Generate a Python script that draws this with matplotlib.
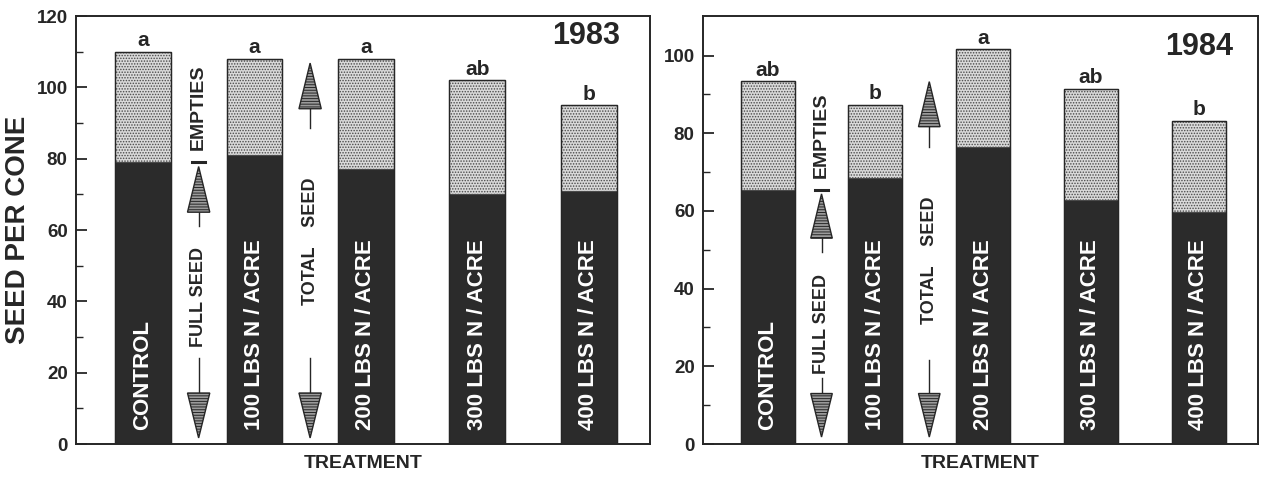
import matplotlib.pyplot as plt
from matplotlib.patches import Polygon

plt.rcParams['font.family'] = ['Liberation Sans', 'DejaVu Sans']
plt.rcParams['font.weight'] = 'bold'
plt.rcParams['hatch.linewidth'] = 0.7

treatments = ['CONTROL', '100 LBS N / ACRE', '200 LBS N / ACRE',
              '300 LBS N / ACRE', '400 LBS N / ACRE']

full_1983 = [79, 81, 77, 70, 71]
total_1983 = [110, 108, 108, 102, 95]
letters_1983 = ['a', 'a', 'a', 'ab', 'b']

full_1984 = [65.4, 68.5, 76.5, 62.8, 59.8]
total_1984 = [93.4, 87.4, 101.7, 91.5, 83.2]
letters_1984 = ['ab', 'b', 'a', 'ab', 'b']

ink = '#262626'
dark = '#2b2b2b'


def head(ax, x, tip, base, w):
    tri = Polygon([(x - w / 2, base), (x + w / 2, base), (x, tip)], closed=True,
                  facecolor='#9a9a9a', edgecolor=ink, hatch='------', lw=1.0, zorder=4)
    ax.add_patch(tri)


def double_arrow(ax, x, up_tip, up_base, up_stem, dn_stem, dn_base, dn_tip, w=0.2):
    head(ax, x, up_tip, up_base, w)
    ax.plot([x, x], [up_base, up_stem], color=ink, lw=1.0, zorder=3)
    head(ax, x, dn_tip, dn_base, w)
    ax.plot([x, x], [dn_stem, dn_base], color=ink, lw=1.0, zorder=3)


def panel(ax, full, total, letters, year, ymax, yticks, year_pos, arrows):
    x = list(range(len(treatments)))
    empties = [t - f for t, f in zip(total, full)]
    ax.bar(x, full, width=0.5, color=dark, edgecolor=dark, lw=0.8, zorder=2)
    ax.bar(x, empties, width=0.5, bottom=full, color='#d9d9d9',
           edgecolor='#4a4a4a', hatch='......', lw=0.8, zorder=2)
    ax.bar(x, total, width=0.5, fill=False, edgecolor=ink, lw=1.0, zorder=3)
    for i, name in enumerate(treatments):
        ax.annotate(name, xy=(i, 0), xytext=(0, 10), textcoords='offset points',
                    rotation=90, ha='center', va='bottom', color='white',
                    fontsize=16, fontweight='bold', zorder=5)
        ax.annotate(letters[i], xy=(i, total[i]), xytext=(0, 1),
                    textcoords='offset points', ha='center', va='bottom',
                    color=ink, fontsize=15, fontweight='bold')
    ax.set_xlim(-0.6, 4.55)
    ax.set_ylim(0, ymax)
    ax.set_xticks([])
    ax.set_yticks(yticks)
    ax.set_yticks(range(10, int(ymax), 20), minor=True)
    ax.tick_params(axis='y', which='major', direction='in', length=8, width=1.3,
                   labelsize=13.5, colors=ink, pad=6)
    ax.tick_params(axis='y', which='minor', direction='in', length=5, width=1.0,
                   colors=ink)
    for s in ax.spines.values():
        s.set_color(ink)
        s.set_linewidth(1.4)
    ax.text(year_pos[0], year_pos[1], year, transform=ax.transAxes, ha='right',
            va='center', fontsize=22, fontweight='bold', color=ink)
    ax.set_xlabel('TREATMENT', fontsize=14, fontweight='bold', color=ink, labelpad=8)

    fa, ta, full_txt, tot_txt = arrows
    # full seed arrow, bounded by the control's full-seed level
    double_arrow(ax, 0.5, *fa)
    ax.plot([0.44, 0.56], [full[0], full[0]], color=ink, lw=2.2, zorder=4)
    ax.text(0.5, full_txt, 'FULL SEED', rotation=90, ha='center', va='center',
            fontsize=13, fontweight='bold', color=ink)
    ax.text(0.5, (full[0] + total[0]) / 2, 'EMPTIES', rotation=90, ha='center',
            va='center', fontsize=14, fontweight='bold', color=ink)
    # total seed arrow
    double_arrow(ax, 1.5, *ta)
    ax.text(1.5, tot_txt, 'TOTAL    SEED', rotation=90, ha='center', va='center',
            fontsize=13, fontweight='bold', color=ink)


fig = plt.figure(figsize=(12.63, 4.78), dpi=100)
ax1 = fig.add_axes([0.0602, 0.0711, 0.4545, 0.8954])
ax2 = fig.add_axes([0.5566, 0.0711, 0.4394, 0.8954])

panel(ax1, full_1983, total_1983, letters_1983, '1983', 120, range(0, 121, 20),
      (0.948, 0.953),
      ((full_1983[0] - 1.2, 65, 61, 24, 14.3, 1.7),
       (106.8, 94, 88.6, 24, 14.3, 1.7), 41.2, 56.8))
panel(ax2, full_1984, total_1984, letters_1984, '1984', 110.2, range(0, 101, 20),
      (0.955, 0.928),
      ((full_1984[0] - 1.0, 53, 49.4, 17, 13, 1.8),
       (93.3, 81.7, 76.5, 21.6, 13, 1.8), 31, 47.4))

ax1.set_ylabel('SEED PER CONE', fontsize=20, fontweight='bold', color=ink, labelpad=4)

fig.savefig('out.png', dpi=100, facecolor='white')
